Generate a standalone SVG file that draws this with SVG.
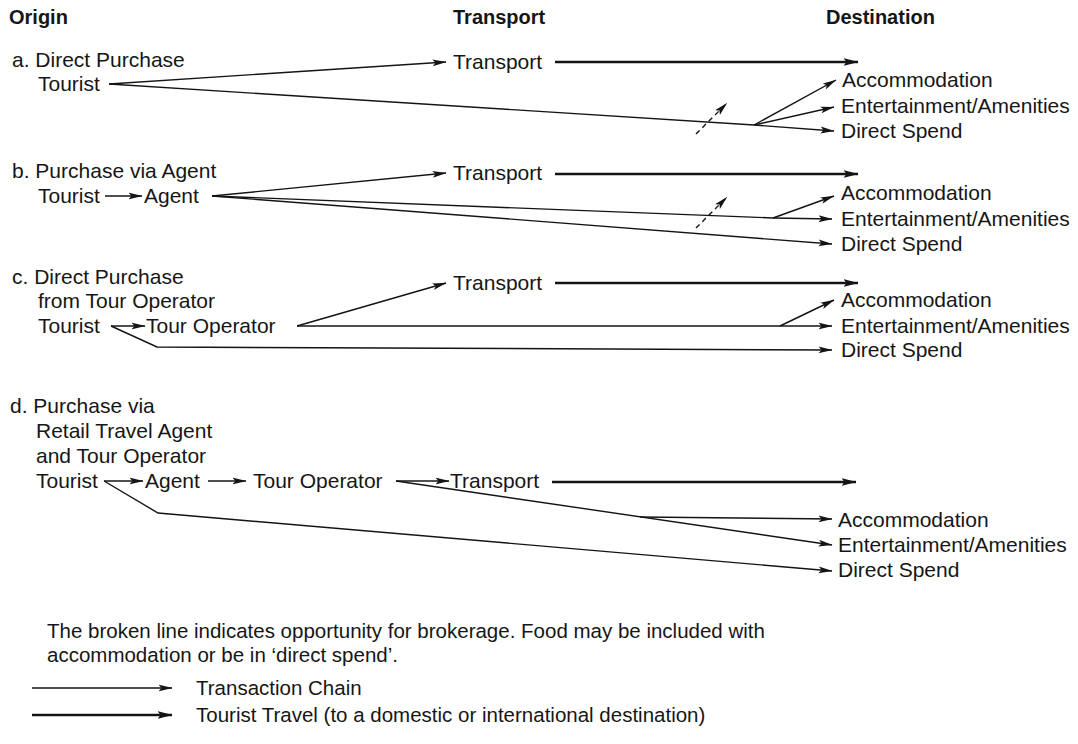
<svg xmlns="http://www.w3.org/2000/svg" width="1078" height="744" viewBox="0 0 1078 744">
<style>
text{font-family:"Liberation Sans",Arial,Helvetica,sans-serif;font-size:21px;fill:#161616}
.hd{font-weight:bold;font-size:20px}
.lg{font-size:20.5px}
.thin{fill:none;stroke:#141414;stroke-width:1.4}
.thick{fill:none;stroke:#141414;stroke-width:2.6}
.dash{fill:none;stroke:#141414;stroke-width:1.4;stroke-dasharray:5 4}
.ta{marker-end:url(#ah)}
.tk{marker-end:url(#ahk)}
</style>
<defs>
<marker id="ah" viewBox="0 0 14 8" refX="13.5" refY="4" markerWidth="14" markerHeight="8" markerUnits="userSpaceOnUse" orient="auto"><path d="M0,0.6 L14,4 L0,7.4 L3,4 z" fill="#141414"/></marker>
<marker id="ahk" viewBox="0 0 15 10" refX="14.5" refY="5" markerWidth="15" markerHeight="10" markerUnits="userSpaceOnUse" orient="auto"><path d="M0,1 L15,5 L0,9 L3,5 z" fill="#141414"/></marker>
</defs>
<rect width="1078" height="744" fill="#ffffff"/>

<g id="headers">
<text class="hd" x="9" y="24">Origin</text>
<text class="hd" x="453" y="24">Transport</text>
<text class="hd" x="826" y="24">Destination</text>
</g>

<!-- Section a -->
<g id="a-title"><text x="12" y="67">a. Direct Purchase</text></g>
<g id="a-tourist"><text x="38" y="91">Tourist</text></g>
<g id="a-transport"><text x="453" y="69">Transport</text></g>
<g id="a-acc"><text x="842" y="87">Accommodation</text></g>
<g id="a-ent"><text x="841" y="113">Entertainment/Amenities</text></g>
<g id="a-ds"><text x="841" y="138">Direct Spend</text></g>

<!-- Section b -->
<g id="b-title"><text x="12" y="178">b. Purchase via Agent</text></g>
<g id="b-tourist"><text x="38" y="203">Tourist</text></g>
<g id="b-agent"><text x="144" y="203">Agent</text></g>
<g id="b-transport"><text x="453" y="180">Transport</text></g>
<g id="b-acc"><text x="841" y="200">Accommodation</text></g>
<g id="b-ent"><text x="841" y="226">Entertainment/Amenities</text></g>
<g id="b-ds"><text x="841" y="251">Direct Spend</text></g>

<!-- Section c -->
<g id="c-title"><text x="12" y="284">c. Direct Purchase</text><text x="38" y="308">from Tour Operator</text></g>
<g id="c-tourist"><text x="38" y="333">Tourist</text></g>
<g id="c-tourop"><text x="146" y="333">Tour Operator</text></g>
<g id="c-transport"><text x="453" y="290">Transport</text></g>
<g id="c-acc"><text x="841" y="307">Accommodation</text></g>
<g id="c-ent"><text x="841" y="333">Entertainment/Amenities</text></g>
<g id="c-ds"><text x="841" y="357">Direct Spend</text></g>

<!-- Section d -->
<g id="d-title"><text x="10" y="413">d. Purchase via</text><text x="36" y="438">Retail Travel Agent</text><text x="36" y="463">and Tour Operator</text></g>
<g id="d-tourist"><text x="36" y="488">Tourist</text></g>
<g id="d-agent"><text x="145" y="488">Agent</text></g>
<g id="d-tourop"><text x="253" y="488">Tour Operator</text></g>
<g id="d-transport"><text x="450" y="488">Transport</text></g>
<g id="d-acc"><text x="838" y="527">Accommodation</text></g>
<g id="d-ent"><text x="838" y="552">Entertainment/Amenities</text></g>
<g id="d-ds"><text x="838" y="577">Direct Spend</text></g>

<!-- Legend -->
<g id="note">
<text class="lg" x="47" y="638">The broken line indicates opportunity for brokerage. Food may be included with</text>
<text class="lg" x="47" y="662">accommodation or be in ‘direct spend’.</text>
</g>
<g id="legend-chain"><text class="lg" x="196" y="695">Transaction Chain</text></g>
<g id="legend-travel"><text class="lg" x="196" y="722">Tourist Travel (to a domestic or international destination)</text></g>

<g id="connectors">
<!-- a -->
<line class="thin ta" x1="109" y1="84" x2="446" y2="62"/>
<line class="thick tk" x1="555" y1="62" x2="858" y2="62"/>
<line class="thin" x1="109" y1="84" x2="754" y2="125"/>
<line class="thin ta" x1="754" y1="125" x2="836" y2="80"/>
<line class="thin ta" x1="754" y1="125" x2="834" y2="107"/>
<line class="thin ta" x1="754" y1="125" x2="834" y2="131"/>
<line class="dash ta" x1="696" y1="134" x2="727" y2="103"/>
<!-- b -->
<line class="thin ta" x1="105" y1="196" x2="142" y2="196"/>
<line class="thin ta" x1="212" y1="196" x2="446" y2="173"/>
<line class="thick tk" x1="555" y1="174" x2="858" y2="174"/>
<line class="thin" x1="212" y1="196" x2="773" y2="218"/>
<line class="thin ta" x1="773" y1="218" x2="834" y2="196"/>
<line class="thin ta" x1="773" y1="218" x2="832" y2="219"/>
<line class="thin ta" x1="212" y1="196" x2="832" y2="244"/>
<line class="dash ta" x1="696" y1="228" x2="727" y2="197"/>
<!-- c -->
<line class="thin ta" x1="111" y1="326" x2="145" y2="326"/>
<polyline class="thin ta" points="111,326 157,347 832,350"/>
<line class="thin ta" x1="297" y1="326" x2="446" y2="283"/>
<line class="thick tk" x1="555" y1="283" x2="858" y2="283"/>
<line class="thin ta" x1="297" y1="326" x2="832" y2="326"/>
<line class="thin ta" x1="780" y1="326" x2="834" y2="300"/>
<!-- d -->
<line class="thin ta" x1="104" y1="481" x2="143" y2="481"/>
<line class="thin ta" x1="208" y1="481" x2="246" y2="481"/>
<line class="thin ta" x1="396" y1="481" x2="449" y2="481"/>
<line class="thick tk" x1="552" y1="482" x2="856" y2="482"/>
<line class="thin ta" x1="396" y1="481" x2="832" y2="545"/>
<line class="thin ta" x1="640" y1="517" x2="832" y2="519"/>
<polyline class="thin ta" points="104,481 158,513 832,571"/>
<!-- legend -->
<line class="thin ta" x1="32" y1="688" x2="172" y2="688"/>
<line class="thick tk" x1="32" y1="715" x2="172" y2="715"/>
</g>
</svg>
